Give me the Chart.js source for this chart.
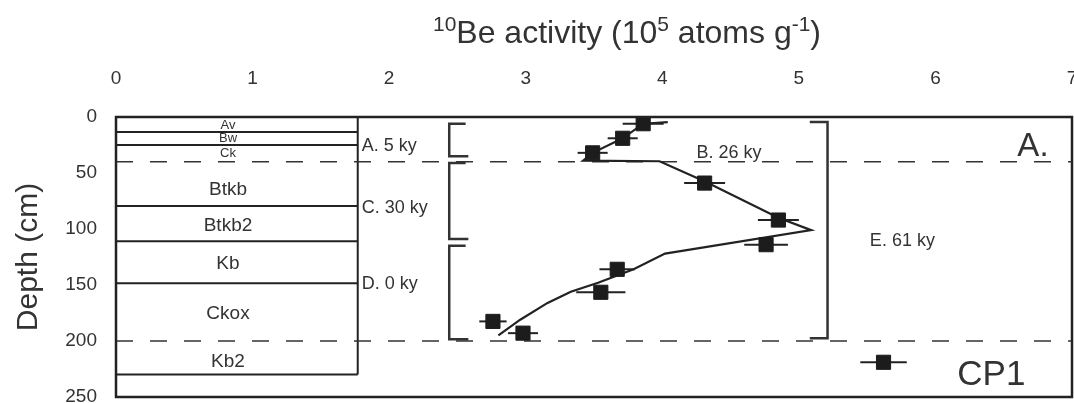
<!DOCTYPE html>
<html>
<head>
<meta charset="utf-8">
<script src="https://cdn.jsdelivr.net/npm/chart.js@4.4.0/dist/chart.umd.min.js"></script>
<style>
  html, body { margin: 0; padding: 0; background: #fff; }
  #wrap { width: 1074px; height: 403px; }
</style>
</head>
<body>
<div id="wrap"><canvas id="beChart"></canvas></div>
<script>
const FONT = "'Liberation Sans', Arial, Helvetica, sans-serif";

// measured 10Be (10^5 atoms/g) against sample depth (cm)
const beActivity = [3.86, 3.71, 3.49, 4.31, 4.85, 4.76, 3.67, 3.55, 2.76, 2.98];
const sampleDepth = [6, 19, 32, 59, 92, 114, 136, 156.5, 182.5, 193];
const beError = [0.15, 0.11, 0.11, 0.15, 0.15, 0.16, 0.13, 0.18, 0.10, 0.11];

// modelled profile
const modelActivity = [4.04, 3.86, 3.71, 3.49, 3.42, 3.98, 4.32, 4.85, 5.09, 4.02, 3.79, 3.53, 3.33, 3.16, 2.96, 2.80];
const modelDepth = [4.5, 6, 19, 32, 39, 39.5, 58, 90, 101, 122, 136, 148, 156, 166, 181, 195];

// soil column
const horizonNames = ['Av', 'Bw', 'Ck', 'Btkb', 'Btkb2', 'Kb', 'Ckox', 'Kb2'];
const horizonLabelDepth = [7.5, 19, 32.5, 65, 97, 131, 176, 218.5];
const horizonBounds = [13.5, 25, 79.5, 111, 148.5, 230];
const unitBounds = [40, 200];
const columnEdge = 1.77;

// age labels
const ageLabels = ['A. 5 ky', 'C. 30 ky', 'D. 0 ky', 'B. 26 ky', 'E. 61 ky'];
const ageX = [1.8, 1.8, 1.8, 4.25, 5.52];
const ageDepth = [26, 81.5, 149.5, 32, 111];

// brackets
const leftBracketTop = [6, 41, 115];
const leftBracketBottom = [35, 109, 198.5];
const rightBracketTop = 4.5;
const rightBracketBottom = 197.5;

// legend sample
const legendActivity = 5.62;
const legendDepth = 219;
const legendError = 0.17;

const activityTicks = [0, 1, 2, 3, 4, 5, 6, 7];
const depthTicks = [0, 50, 100, 150, 200, 250];

function lineSet(points, extra) {
    return Object.assign({
        data: points,
        showLine: true,
        pointRadius: 0,
        borderColor: '#222',
        borderWidth: 2,
        fill: false,
        tension: 0
    }, extra || {});
}

const datasets = [];

datasets.push({
    label: 'measured',
    data: beActivity.map((v, i) => ({ x: v, y: sampleDepth[i] })),
    errors: beError,
    pointStyle: 'rect',
    pointRadius: 10,
    borderWidth: 1,
    backgroundColor: '#1c1c1c',
    borderColor: '#1c1c1c'
});

datasets.push({
    label: 'CP1',
    data: [{ x: legendActivity, y: legendDepth }],
    errors: [legendError],
    pointStyle: 'rect',
    pointRadius: 10,
    borderWidth: 1,
    backgroundColor: '#1c1c1c',
    borderColor: '#1c1c1c'
});

datasets.push(lineSet(modelActivity.map((v, i) => ({ x: v, y: modelDepth[i] })), { borderWidth: 2.2 }));

leftBracketTop.forEach((top, i) => {
    const bottom = leftBracketBottom[i];
    datasets.push(lineSet([
        { x: 2.56, y: top }, { x: 2.44, y: top }, { x: 2.44, y: bottom }, { x: 2.58, y: bottom }
    ], { borderColor: '#333', borderWidth: 2.5 }));
});

datasets.push(lineSet([
    { x: 5.08, y: rightBracketTop }, { x: 5.21, y: rightBracketTop },
    { x: 5.21, y: rightBracketBottom }, { x: 5.08, y: rightBracketBottom }
], { borderColor: '#333', borderWidth: 2.5 }));

unitBounds.forEach(d => {
    datasets.push(lineSet([{ x: 0, y: d }, { x: 7, y: d }], {
        borderColor: '#333', borderWidth: 1.6, borderDash: [17, 17]
    }));
});

horizonBounds.forEach(d => {
    datasets.push(lineSet([{ x: 0, y: d }, { x: columnEdge, y: d }], { borderColor: '#222', borderWidth: 2 }));
});
datasets.push(lineSet([{ x: columnEdge, y: 0 }, { x: columnEdge, y: 230 }], { borderColor: '#222', borderWidth: 2 }));

const errorBars = {
    id: 'errorBars',
    beforeDatasetsDraw(chart) {
        const ctx = chart.ctx;
        const xs = chart.scales.x;
        const ys = chart.scales.y;
        ctx.save();
        ctx.strokeStyle = '#222';
        ctx.lineWidth = 2;
        chart.data.datasets.forEach(ds => {
            if (!ds.errors) return;
            ds.data.forEach((p, i) => {
                const y = ys.getPixelForValue(p.y);
                ctx.beginPath();
                ctx.moveTo(xs.getPixelForValue(p.x - ds.errors[i]), y);
                ctx.lineTo(xs.getPixelForValue(p.x + ds.errors[i]), y);
                ctx.stroke();
            });
        });
        ctx.restore();
    }
};

const labels = {
    id: 'labels',
    afterDatasetsDraw(chart) {
        const ctx = chart.ctx;
        const xs = chart.scales.x;
        const ys = chart.scales.y;
        ctx.save();
        ctx.fillStyle = '#333';
        ctx.textBaseline = 'middle';

        // horizon names
        ctx.textAlign = 'center';
        horizonNames.forEach((name, i) => {
            ctx.font = (i < 3 ? '13px ' : '19px ') + FONT;
            ctx.fillText(name, xs.getPixelForValue(0.82), ys.getPixelForValue(horizonLabelDepth[i]));
        });

        // ages
        ctx.textAlign = 'left';
        ctx.font = '18px ' + FONT;
        ageLabels.forEach((t, i) => {
            ctx.fillText(t, xs.getPixelForValue(ageX[i]), ys.getPixelForValue(ageDepth[i]));
        });

        // panel letter and legend text
        ctx.font = '33px ' + FONT;
        ctx.fillText('A.', xs.getPixelForValue(6.6), ys.getPixelForValue(27));
        ctx.font = '35px ' + FONT;
        ctx.fillText('CP1', xs.getPixelForValue(6.16), ys.getPixelForValue(231));

        ctx.restore();
    },
    afterDraw(chart) {
        const ctx = chart.ctx;
        const a = chart.chartArea;
        ctx.save();
        ctx.strokeStyle = '#222';
        ctx.lineWidth = 2.5;
        ctx.strokeRect(a.left, a.top, a.right - a.left, a.bottom - a.top);

        // axis title with superscripts
        const parts = [['10', true], ['Be activity (10', false], ['5', true], [' atoms g', false], ['-1', true], [')', false]];
        let total = 0;
        parts.forEach(p => {
            ctx.font = (p[1] ? '21px ' : '32px ') + FONT;
            total += ctx.measureText(p[0]).width;
        });
        let x = 627 - total / 2;
        ctx.fillStyle = '#333';
        ctx.textAlign = 'left';
        ctx.textBaseline = 'alphabetic';
        parts.forEach(p => {
            ctx.font = (p[1] ? '21px ' : '32px ') + FONT;
            ctx.fillText(p[0], x, p[1] ? 31 : 43);
            x += ctx.measureText(p[0]).width;
        });
        ctx.restore();
    }
};

Chart.defaults.font.family = FONT;
Chart.defaults.color = '#333';

new Chart(document.getElementById('beChart'), {
    type: 'scatter',
    data: { datasets: datasets },
    options: {
        responsive: true,
        maintainAspectRatio: false,
        animation: false,
        layout: { autoPadding: false, padding: { left: 0, top: 0, right: 2, bottom: 6 } },
        plugins: {
            legend: { display: false },
            tooltip: { enabled: false }
        },
        scales: {
            x: {
                type: 'linear',
                position: 'top',
                min: 0,
                max: 7,
                grid: { display: false, drawTicks: false },
                border: { display: false },
                ticks: { font: { size: 19 }, color: '#333', padding: 27, maxRotation: 0, autoSkip: false },
                afterBuildTicks: scale => { scale.ticks = activityTicks.map(v => ({ value: v })); },
                afterFit: scale => {
                    scale.height = 117;
                    scale.paddingLeft = 0;
                    scale.paddingRight = 0;
                }
            },
            y: {
                type: 'linear',
                reverse: true,
                min: 0,
                max: 250,
                grid: { display: false, drawTicks: false },
                border: { display: false },
                ticks: { font: { size: 19 }, color: '#333', padding: 19, autoSkip: false },
                afterBuildTicks: scale => { scale.ticks = depthTicks.map(v => ({ value: v })); },
                title: {
                    display: true,
                    text: 'Depth (cm)',
                    color: '#333',
                    font: { size: 30 },
                    padding: { top: 11, bottom: 0 }
                },
                afterFit: scale => {
                    scale.width = 116;
                    scale.paddingTop = 0;
                    scale.paddingBottom = 0;
                }
            }
        }
    },
    plugins: [errorBars, labels]
});
</script>
</body>
</html>
